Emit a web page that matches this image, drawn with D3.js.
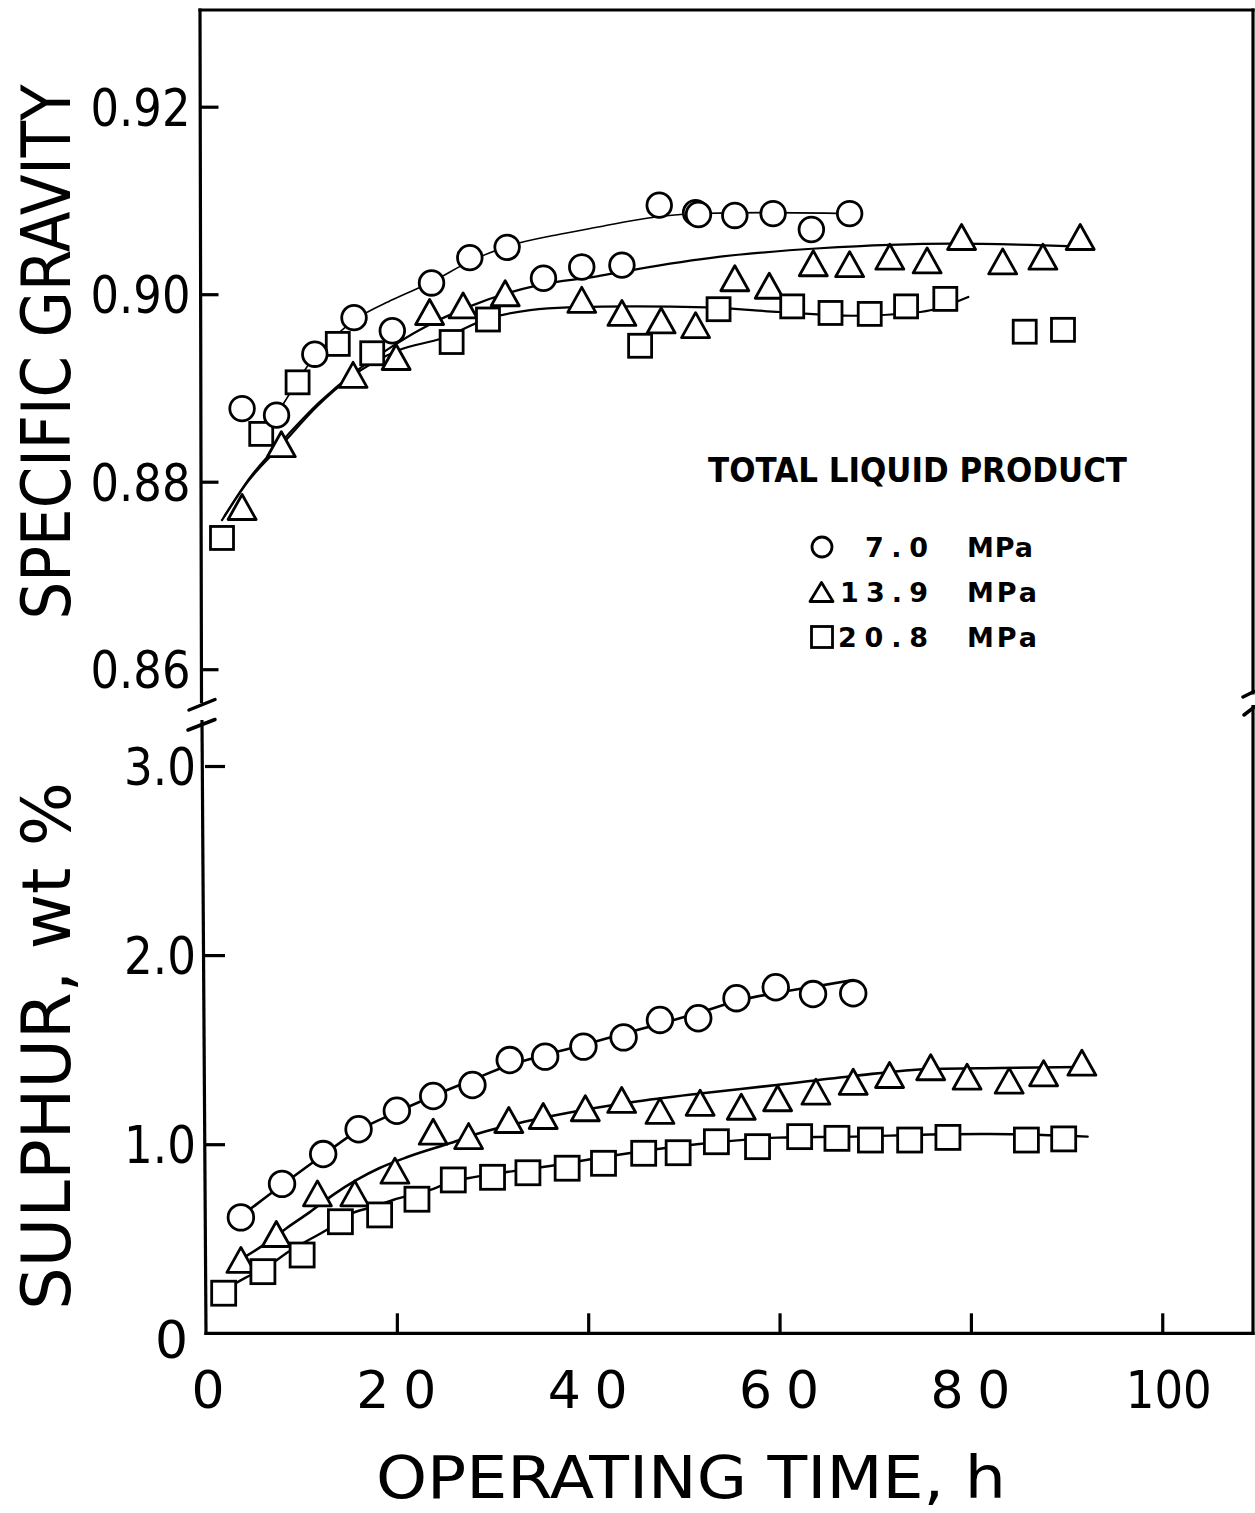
<!DOCTYPE html>
<html><head><meta charset="utf-8">
<script src="https://cdn.jsdelivr.net/npm/d3@7"></script>
<style>html,body{margin:0;padding:0;background:#fff;} svg{display:block}</style>
</head><body><div id="chart"></div>
<script>
// ---------- DATA ----------
const hourTicks = [0, 20, 40, 60, 80, 100];
const hourTickLabels = ["0", "20", "40", "60", "80", "100"];
const sgTicks = [0.86, 0.88, 0.90, 0.92];
const sgTickLabels = ["0.86", "0.88", "0.90", "0.92"];
const sTicks = [0, 1, 2, 3];
const sTickLabels = ["0", "1.0", "2.0", "3.0"];
const seriesPressure = ["7.0", "13.9", "20.8"];
const legendTitle = "TOTAL LIQUID PRODUCT";

// Specific gravity points [h, SG]
const sg70 = [[4.4,0.8878],[8.0,0.8871],[12.0,0.8936],[16.1,0.8975],[20.1,0.8961],[24.2,0.9012],[28.2,0.9039],[32.1,0.9050],[35.9,0.9017],[39.9,0.9029],[44.1,0.9031],[48.0,0.9095],[51.8,0.9087],[52.1,0.9085],[55.9,0.9084],[59.9,0.9086],[63.9,0.9069],[67.9,0.9086]];
const sg139 = [[4.4,0.8773],[8.5,0.8840],[16.0,0.8914],[20.5,0.8933],[24.0,0.8981],[27.5,0.8988],[31.9,0.9001],[39.9,0.8994],[44.1,0.8980],[48.2,0.8972],[51.8,0.8967],[55.9,0.9017],[59.5,0.9009],[64.1,0.9033],[67.9,0.9032],[72.1,0.9040],[76.0,0.9036],[79.6,0.9061],[83.9,0.9035],[88.1,0.9040],[92.0,0.9061]];
const sg208 = [[2.3,0.8740],[6.4,0.8851],[10.2,0.8906],[14.4,0.8947],[18.0,0.8937],[26.3,0.8949],[30.1,0.8973],[46.0,0.8945],[54.2,0.8984],[61.9,0.8987],[65.9,0.8980],[70.0,0.8979],[73.8,0.8987],[77.9,0.8995],[86.2,0.8960],[90.2,0.8962]];
// Specific gravity fitted curves
const sg70Fit = [[8.05,0.8872],[10.0,0.8904],[12.0,0.8934],[14.1,0.8955],[16.1,0.8972],[20.1,0.8994],[24.2,0.9013],[28.2,0.9035],[32.1,0.9051],[37.6,0.9064],[41.8,0.9072],[46.7,0.9081],[52.0,0.9086],[59.8,0.9087],[67.9,0.9086]];
const sg139Fit = [[2.6,0.8764],[5.2,0.8804],[8.9,0.8847],[12.5,0.8885],[16.2,0.8917],[19.9,0.8943],[22.8,0.8961],[28.2,0.8987],[35.5,0.9010],[41.5,0.9019],[45.3,0.9026],[54.4,0.9040],[64.8,0.9049],[78.7,0.9054],[91.5,0.9051]];
const sg208Fit = [[2.3,0.8759],[5.0,0.8800],[8.6,0.8840],[12.3,0.8881],[15.7,0.8911],[20.7,0.8940],[25.3,0.8953],[30.1,0.8974],[34.5,0.8983],[38.5,0.8986],[45.5,0.8987],[53.0,0.8986],[60.6,0.8981],[68.3,0.8977],[75.3,0.8981],[80.3,0.8997]];

// Sulphur points [h, wt%]
const s70 = [[3.7,0.613],[8.0,0.790],[12.3,0.948],[16.0,1.079],[20.0,1.177],[23.8,1.255],[27.9,1.313],[31.8,1.445],[35.5,1.463],[39.5,1.516],[43.7,1.565],[47.5,1.657],[51.5,1.666],[55.5,1.772],[59.6,1.830],[63.5,1.794],[67.7,1.798]];
const s139 = [[3.7,0.388],[7.4,0.525],[11.7,0.740],[15.6,0.740],[19.8,0.860],[23.8,1.066],[27.5,1.043],[31.7,1.128],[35.3,1.149],[39.7,1.190],[43.5,1.234],[47.5,1.176],[51.7,1.219],[56.0,1.198],[59.8,1.243],[63.8,1.278],[67.7,1.330],[71.5,1.366],[75.8,1.407],[79.6,1.357],[84.0,1.336],[87.6,1.375],[91.6,1.431]];
const s208 = [[1.9,0.212],[6.0,0.326],[10.1,0.414],[14.1,0.590],[18.2,0.626],[22.1,0.709],[25.9,0.811],[30.0,0.825],[33.7,0.849],[37.8,0.873],[41.6,0.899],[45.8,0.952],[49.4,0.955],[53.4,1.013],[57.7,0.987],[62.1,1.040],[66.0,1.031],[69.5,1.022],[73.6,1.022],[77.6,1.036],[85.8,1.022],[89.7,1.028]];
// Sulphur fitted curves
const s70Fit = [[3.6,0.615],[8.0,0.784],[12.3,0.943],[15.9,1.070],[20.0,1.170],[23.8,1.255],[27.9,1.340],[31.8,1.419],[35.5,1.472],[39.5,1.525],[43.6,1.583],[47.5,1.636],[51.5,1.694],[55.6,1.757],[59.6,1.800],[63.5,1.832],[67.7,1.868]];
const s139Fit = [[3.9,0.398],[6.4,0.478],[8.5,0.557],[10.9,0.641],[13.3,0.731],[15.8,0.811],[18.2,0.874],[21.1,0.932],[25.6,1.006],[28.7,1.059],[33.2,1.117],[37.8,1.165],[44.7,1.223],[51.7,1.268],[59.7,1.313],[67.7,1.361],[75.7,1.398],[83.0,1.403],[91.4,1.408]];
const s208Fit = [[2.1,0.234],[4.1,0.292],[6.2,0.345],[8.8,0.435],[13.0,0.557],[15.4,0.636],[17.5,0.668],[19.6,0.705],[23.5,0.758],[25.6,0.800],[28.2,0.827],[31.5,0.853],[36.0,0.885],[43.0,0.943],[46.5,0.969],[51.6,1.001],[55.6,1.020],[59.8,1.035],[67.8,1.040],[75.7,1.051],[82.0,1.054],[92.2,1.040]];

// ---------- LAYOUT ----------
const W = 1255, H = 1513;
const pxPerHour = 9.5675;
const hourMax = 109.5;
const FONT = "'DejaVu Sans', sans-serif";

const svg = d3.select("#chart").append("svg").attr("width", W).attr("height", H)
  .style("background", "#fff");

const xTop = d3.scaleLinear().domain([0, hourMax]).range([200, 200 + hourMax * pxPerHour]);
const xBot = d3.scaleLinear().domain([0, hourMax]).range([205.5, 205.5 + hourMax * pxPerHour]);
const yTop = d3.scaleLinear().domain([0.86, 0.92]).range([669.2, 106.7]);
const yBot = d3.scaleLinear().domain([0, 3]).range([1333.3, 766]);

const RIGHT = 1253;
const TOP = 10;
const AX = 3.2;

// frame lines
const frame = svg.append("g").attr("stroke", "#000").attr("stroke-width", AX).attr("fill", "none").attr("stroke-linecap", "square");
frame.append("line").attr("x1", 200).attr("y1", TOP).attr("x2", RIGHT).attr("y2", TOP);
frame.append("line").attr("x1", 200).attr("y1", TOP).attr("x2", 201.5).attr("y2", 701.7);
frame.append("line").attr("x1", RIGHT).attr("y1", TOP).attr("x2", RIGHT).attr("y2", 693);
frame.append("line").attr("x1", 202).attr("y1", 721.7).attr("x2", 206).attr("y2", 1333.3);
frame.append("line").attr("x1", 206).attr("y1", 1333.3).attr("x2", RIGHT).attr("y2", 1333.3);
frame.append("line").attr("x1", RIGHT).attr("y1", 706.7).attr("x2", RIGHT).attr("y2", 1333.3);
// break marks
const brk = svg.append("g").attr("stroke", "#000").attr("stroke-width", 3.5).attr("stroke-linecap", "round");
brk.append("line").attr("x1", 189).attr("y1", 710).attr("x2", 215).attr("y2", 699.5);
brk.append("line").attr("x1", 188).attr("y1", 730).attr("x2", 215).attr("y2", 719.5);
brk.append("line").attr("x1", 1243).attr("y1", 697).attr("x2", 1254).attr("y2", 691.5);
brk.append("line").attr("x1", 1244).attr("y1", 715).attr("x2", 1255).attr("y2", 706.5);

// ---------- AXES ----------
function styleAxis(g) {
  g.select(".domain").remove();
  g.selectAll(".tick line").attr("stroke", "#000").attr("stroke-width", AX);
  g.selectAll(".tick text").attr("fill", "#000").style("font-family", FONT).style("font-size", "52px");
}
const axTop = svg.append("g").attr("transform", "translate(200.5,0)")
  .call(d3.axisLeft(yTop).tickValues(sgTicks).tickSize(-18).tickPadding(10)
    .tickFormat((d, i) => sgTickLabels[i]));
styleAxis(axTop);
axTop.selectAll(".tick text").attr("dy", "0.36em").attr("textLength", 100).attr("lengthAdjust", "spacingAndGlyphs");

const axBotY = svg.append("g").attr("transform", "translate(205,0)")
  .call(d3.axisLeft(yBot).tickValues(sTicks).tickSize(-20).tickPadding(9)
    .tickFormat((d, i) => sTickLabels[i]));
styleAxis(axBotY);
axBotY.selectAll(".tick text").attr("dy", (d) => d === 0 ? "0.46em" : "0.36em")
  .attr("x", (d) => d === 0 ? -17 : -9)
  .each(function(d) { if (d !== 0) d3.select(this).attr("textLength", 72).attr("lengthAdjust", "spacingAndGlyphs"); });
axBotY.selectAll(".tick line").filter(d => d === 0).remove();

const axX = svg.append("g").attr("transform", "translate(0,1333.3)")
  .call(d3.axisBottom(xBot).tickValues(hourTicks).tickSize(-20).tickPadding(38)
    .tickFormat((d, i) => hourTickLabels[i]));
styleAxis(axX);
axX.selectAll(".tick line").filter(d => d === 0).remove();
axX.selectAll(".tick text").attr("dx", d => d === 0 ? 2 : (d === 100 ? 6 : -1))
  .each(function(d, i) {
    const s = hourTickLabels[i];
    if (s.length === 2) d3.select(this).attr("textLength", 80).attr("lengthAdjust", "spacing");
    if (s.length === 3) d3.select(this).attr("textLength", 86).attr("lengthAdjust", "spacingAndGlyphs");
  });

// axis titles
svg.append("text").attr("transform", "translate(70,352) rotate(-90)")
  .attr("text-anchor", "middle").style("font-family", FONT).style("font-size", "68px")
  .attr("textLength", 535).attr("lengthAdjust", "spacingAndGlyphs").text("SPECIFIC GRAVITY");
svg.append("text").attr("transform", "translate(70,1046) rotate(-90)")
  .attr("text-anchor", "middle").style("font-family", FONT).style("font-size", "68px")
  .attr("textLength", 528).attr("lengthAdjust", "spacingAndGlyphs").text("SULPHUR, wt %");
svg.append("text").attr("x", 376).attr("y", 1498)
  .style("font-family", FONT).style("font-size", "58px")
  .attr("textLength", 630).attr("lengthAdjust", "spacingAndGlyphs").text("OPERATING TIME, h");

// ---------- CURVES ----------
function drawFit(data, xs, ys, width) {
  const line = d3.line().x(d => xs(d[0])).y(d => ys(d[1])).curve(d3.curveMonotoneX);
  svg.append("path").datum(data).attr("d", line).attr("fill", "none")
    .attr("stroke", "#000").attr("stroke-width", width).attr("stroke-linecap", "round");
}
drawFit(sg70Fit, xTop, yTop, 1.6);
drawFit(sg139Fit, xTop, yTop, 2.2);
drawFit(sg208Fit, xTop, yTop, 2.2);
drawFit(s70Fit, xBot, yBot, 2.6);
drawFit(s139Fit, xBot, yBot, 2.6);
drawFit(s208Fit, xBot, yBot, 2.4);

// ---------- MARKERS ----------
const MS = 2.8;
function circles(g, data, xs, ys, r) {
  g.selectAll(null).data(data).enter().append("circle")
    .attr("cx", d => xs(d[0])).attr("cy", d => ys(d[1])).attr("r", r)
    .attr("fill", "#fff").attr("stroke", "#000").attr("stroke-width", MS);
}
function squares(g, data, xs, ys, s) {
  g.selectAll(null).data(data).enter().append("rect")
    .attr("x", d => xs(d[0]) - s / 2).attr("y", d => ys(d[1]) - s / 2)
    .attr("width", s).attr("height", s)
    .attr("fill", "#fff").attr("stroke", "#000").attr("stroke-width", MS);
}
function triPath(w, h) { return `M0,${-h/2}L${w/2},${h/2}L${-w/2},${h/2}Z`; }
function triangles(g, data, xs, ys, w, h) {
  g.selectAll(null).data(data).enter().append("path")
    .attr("d", triPath(w, h))
    .attr("transform", d => `translate(${xs(d[0])},${ys(d[1])})`)
    .attr("fill", "#fff").attr("stroke", "#000").attr("stroke-width", MS).attr("stroke-linejoin", "round");
}
const mk = svg.append("g");
triangles(mk, sg139, xTop, yTop, 28, 25);
squares(mk, sg208, xTop, yTop, 23);
circles(mk, sg70, xTop, yTop, 12.3);
triangles(mk, s139, xBot, yBot, 28, 25);
squares(mk, s208, xBot, yBot, 24);
circles(mk, s70, xBot, yBot, 12.8);

// ---------- LEGEND ----------
const lg = svg.append("g").style("font-family", FONT).attr("fill", "#000");
lg.append("text").attr("x", 708).attr("y", 482).style("font-size", "33px").style("font-weight", "bold")
  .attr("textLength", 419).attr("lengthAdjust", "spacingAndGlyphs").text(legendTitle);
const rowsY = [547, 592, 637];
const numX = [[865, 63], [840, 88], [838, 90]];
const legG = lg.append("g");
legG.append("circle").attr("cx", 822).attr("cy", rowsY[0]).attr("r", 10)
  .attr("fill", "#fff").attr("stroke", "#000").attr("stroke-width", 2.8);
legG.append("path").attr("d", triPath(23, 19)).attr("transform", `translate(821.5,${rowsY[1]})`)
  .attr("fill", "#fff").attr("stroke", "#000").attr("stroke-width", 2.8).attr("stroke-linejoin", "round");
legG.append("rect").attr("x", 811.5).attr("y", rowsY[2] - 10.5).attr("width", 21).attr("height", 21)
  .attr("fill", "#fff").attr("stroke", "#000").attr("stroke-width", 2.8);
seriesPressure.forEach((p, i) => {
  lg.append("text").attr("x", numX[i][0]).attr("y", rowsY[i] + 9.5).style("font-size", "27px").style("font-weight", "bold")
    .attr("textLength", numX[i][1]).attr("lengthAdjust", "spacing").text(p);
  lg.append("text").attr("x", 967).attr("y", rowsY[i] + 9.5).style("font-size", "27px").style("font-weight", "bold")
    .attr("textLength", i === 0 ? 66 : 70).attr("lengthAdjust", "spacing").text("MPa");
});
</script>
</body></html>
